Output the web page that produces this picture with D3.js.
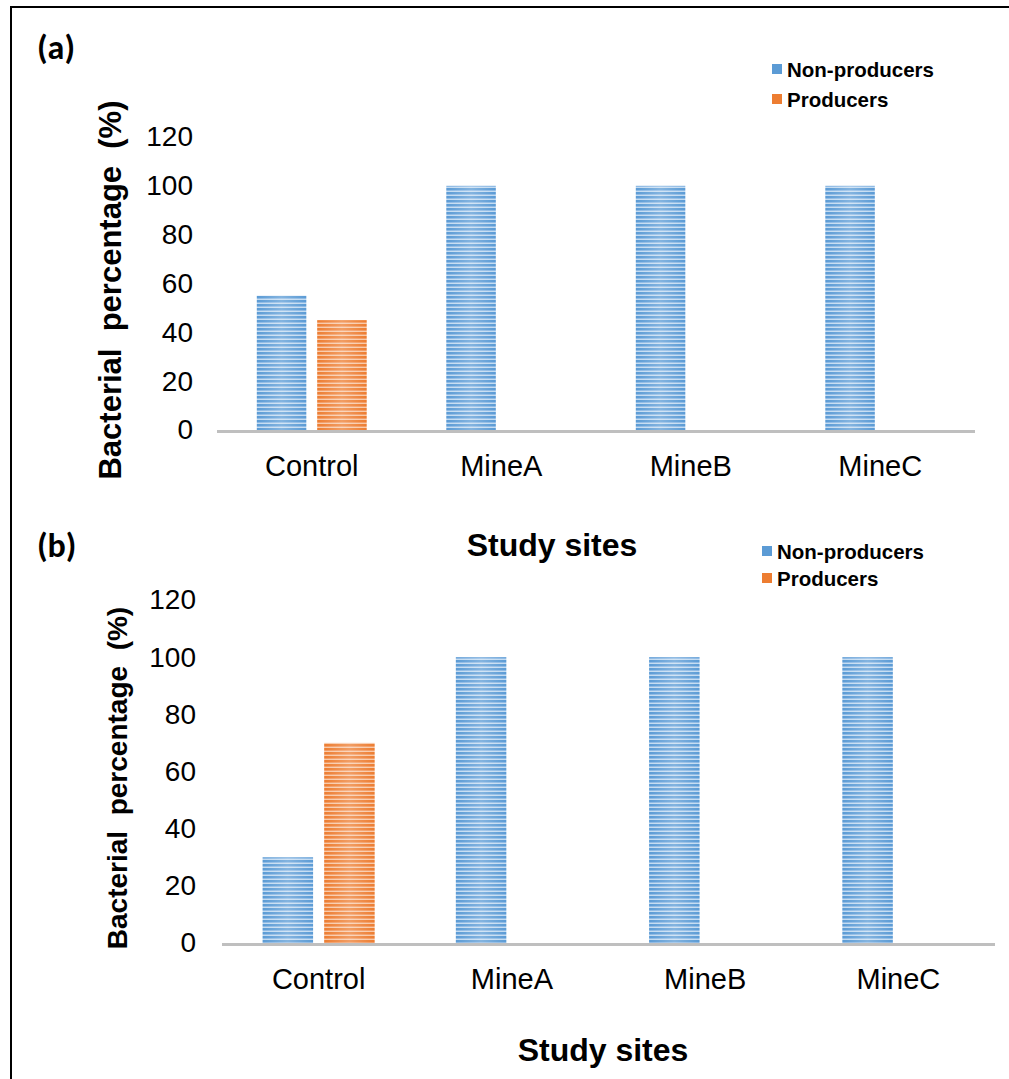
<!DOCTYPE html>
<html>
<head>
<meta charset="utf-8">
<script src="https://cdn.jsdelivr.net/npm/d3@7"></script>
<style>
  html, body { margin: 0; padding: 0; background: #ffffff; }
  svg { display: block; }
  .pre { white-space: pre; }
</style>
</head>
<body>
<script>
// ---- data ----
const categories = ["Control", "MineA", "MineB", "MineC"];
const seriesNames = ["Non-producers", "Producers"];
const nonProducersA = [55, 100, 100, 100];
const producersA = [45, 0, 0, 0];
const nonProducersB = [30, 100, 100, 100];
const producersB = [70, 0, 0, 0];
const yTicks = [0, 20, 40, 60, 80, 100, 120];
const panelLabels = ["(a)", "(b)"];
const yTitle = "Bacterial  percentage  (%)";
const xTitle = "Study sites";

const W = 1009, H = 1079;
const svg = d3.select("body").append("svg").attr("width", W).attr("height", H);
svg.append("rect").attr("width", W).attr("height", H).attr("fill", "#fff");

// stripe patterns
const defs = svg.append("defs");
function stripe(id, c1, c2, c3) {
  const p = defs.append("pattern").attr("id", id)
    .attr("patternUnits", "userSpaceOnUse").attr("width", 8).attr("height", 4);
  p.append("rect").attr("width", 8).attr("height", 4).attr("fill", c3);
  p.append("rect").attr("y", 0).attr("width", 8).attr("height", 2).attr("fill", c1);
  p.append("rect").attr("y", 2).attr("width", 8).attr("height", 1).attr("fill", c2);
}
stripe("blueStripe", "#5b9bd5", "#8db9e4", "#c3dbf1");
stripe("orangeStripe", "#ed7d31", "#f29b63", "#f8c9a8");
const hg = defs.append("linearGradient").attr("id", "sheen").attr("x1", 0).attr("x2", 1).attr("y1", 0).attr("y2", 0);
hg.append("stop").attr("offset", 0).attr("stop-color", "#fff").attr("stop-opacity", 0);
hg.append("stop").attr("offset", 0.5).attr("stop-color", "#fff").attr("stop-opacity", 0.25);
hg.append("stop").attr("offset", 1).attr("stop-color", "#fff").attr("stop-opacity", 0);

const fills = { "Non-producers": "url(#blueStripe)", "Producers": "url(#orangeStripe)" };
const legendFill = { "Non-producers": "#5b9bd5", "Producers": "#ed7d31" };

// outer frame
svg.append("rect").attr("x", 11).attr("y", 7).attr("width", W + 20).attr("height", H + 20)
  .attr("fill", "none").attr("stroke", "#000").attr("stroke-width", 2);

const FONT = "Arial, 'Liberation Sans', sans-serif";

function drawPanel(cfg) {
  const g = svg.append("g");
  const x0 = d3.scaleBand().domain(categories).range(cfg.xr).paddingInner(0.42).paddingOuter(0.21);
  const x1 = d3.scaleBand().domain(seriesNames).range([0, x0.bandwidth()]).paddingInner(0.18);
  const y = d3.scaleLinear().domain([0, 120]).range(cfg.yr);

  // y tick labels
  const yAxis = d3.axisLeft(y).tickValues(yTicks).tickSize(0).tickPadding(0);
  const ya = g.append("g").attr("transform", `translate(${cfg.yLabelX},0)`).call(yAxis);
  ya.select(".domain").remove();
  ya.selectAll("text").attr("font-family", FONT).attr("font-size", 28).attr("fill", "#000");

  // bars
  const rows = categories.map((c, i) => ({ cat: c, vals: [
    { s: seriesNames[0], v: cfg.np[i] }, { s: seriesNames[1], v: cfg.p[i] } ] }));
  const grp = g.selectAll(".grp").data(rows).join("g")
    .attr("transform", d => `translate(${x0(d.cat)},0)`);
  grp.selectAll("rect.bar").data(d => d.vals.filter(e => e.v > 0)).join("rect")
    .attr("class", "bar")
    .attr("x", d => x1(d.s)).attr("width", x1.bandwidth())
    .attr("y", d => y(d.v)).attr("height", d => y(0) - y(d.v))
    .attr("fill", d => fills[d.s]);
  grp.selectAll("rect.sheen").data(d => d.vals.filter(e => e.v > 0)).join("rect")
    .attr("class", "sheen")
    .attr("x", d => x1(d.s)).attr("width", x1.bandwidth())
    .attr("y", d => y(d.v)).attr("height", d => y(0) - y(d.v))
    .attr("fill", "url(#sheen)");

  // baseline
  g.append("line").attr("x1", cfg.xr[0]).attr("x2", cfg.xr[1])
    .attr("y1", y(0) + 1.5).attr("y2", y(0) + 1.5)
    .attr("stroke", "#bfbfbf").attr("stroke-width", 3);

  // x tick labels
  const xAxis = d3.axisBottom(x0).tickSize(0).tickPadding(0);
  const xa = g.append("g").attr("transform", `translate(0,${cfg.xLabelY})`).call(xAxis);
  xa.select(".domain").remove();
  xa.selectAll("text").attr("font-family", FONT).attr("font-size", 29).attr("fill", "#000")
    .attr("dy", "0.32em");

  // axis titles
  g.append("text").attr("class", "pre")
    .attr("transform", `translate(${cfg.yTitleX},${cfg.yTitleY}) rotate(-90)`)
    .attr("text-anchor", "middle").attr("dominant-baseline", "central")
    .attr("font-family", FONT).attr("font-weight", "bold").attr("font-size", cfg.yTitleSize)
    .text(yTitle);
  g.append("text").attr("x", cfg.xTitleX).attr("y", cfg.xTitleY)
    .attr("text-anchor", "middle").attr("dominant-baseline", "central")
    .attr("font-family", FONT).attr("font-weight", "bold").attr("font-size", cfg.xTitleSize)
    .text(xTitle);

  // panel label
  g.append("text").attr("x", cfg.labX).attr("y", cfg.labY)
    .attr("font-family", "Carlito, 'Open Sans', Arial, sans-serif").attr("font-weight", "bold")
    .attr("font-size", 34).attr("dominant-baseline", "central").text(cfg.label);

  // legend
  const lg = g.append("g").attr("transform", `translate(${cfg.legX},${cfg.legY})`);
  const li = lg.selectAll("g").data(seriesNames).join("g")
    .attr("transform", (d, i) => `translate(0,${i * cfg.legStep})`);
  li.append("rect").attr("x", 0).attr("y", -5).attr("width", 10).attr("height", 10)
    .attr("fill", d => legendFill[d]);
  li.append("text").attr("x", 15).attr("y", 0).attr("dominant-baseline", "central")
    .attr("font-family", FONT).attr("font-weight", "bold").attr("font-size", 20.5)
    .attr("fill", "#000").text(d => d);
}

drawPanel({
  np: nonProducersA, p: producersA, label: panelLabels[0],
  xr: [217, 975], yr: [430, 137], yLabelX: 193, xLabelY: 467,
  yTitleX: 110, yTitleY: 290, yTitleSize: 31,
  xTitleX: 552, xTitleY: 545, xTitleSize: 32,
  labX: 37, labY: 47,
  legX: 772, legY: 69, legStep: 30
});
drawPanel({
  np: nonProducersB, p: producersB, label: panelLabels[1],
  xr: [222, 995], yr: [943, 600], yLabelX: 196, xLabelY: 980,
  yTitleX: 117, yTitleY: 778, yTitleSize: 28,
  xTitleX: 603, xTitleY: 1050, xTitleSize: 32,
  labX: 37, labY: 545,
  legX: 762, legY: 551, legStep: 27
});
</script>
</body>
</html>
